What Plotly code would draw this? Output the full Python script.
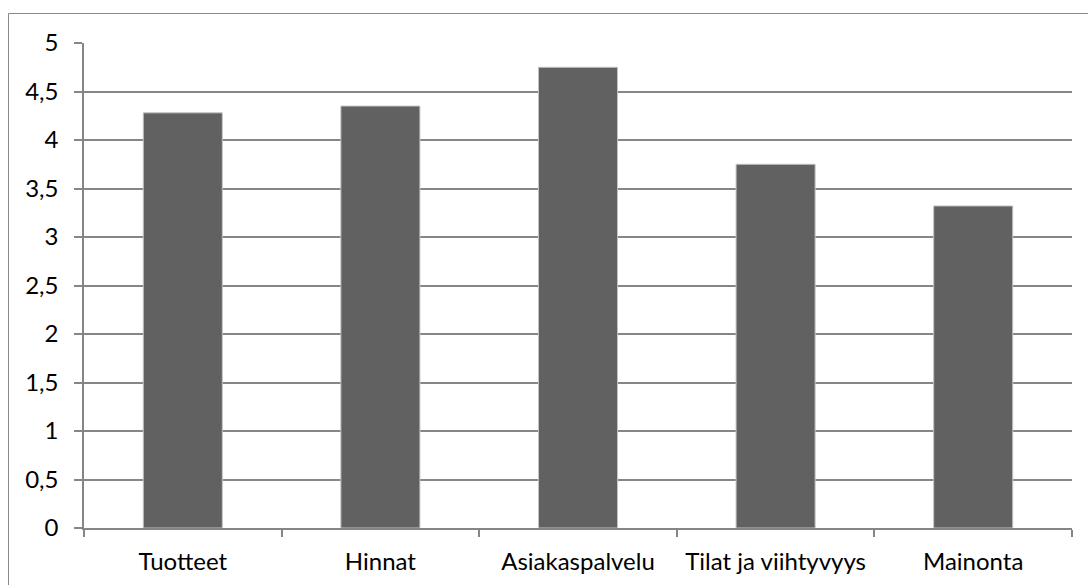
import plotly.graph_objects as go

categories = ["Tuotteet", "Hinnat", "Asiakaspalvelu", "Tilat ja viihtyvyys", "Mainonta"]
values = [4.28, 4.35, 4.75, 3.75, 3.32]
y_tick_values = [0, 0.5, 1, 1.5, 2, 2.5, 3, 3.5, 4, 4.5, 5]
y_tick_labels = ["0", "0,5", "1", "1,5", "2", "2,5", "3", "3,5", "4", "4,5", "5"]

W, H = 1088, 585
ML, MR, MT, MB = 84, 16, 43, 57
plot_w = W - ML - MR
plot_h = H - MT - MB

grid_color = "#868686"
font = dict(family="Lato, Carlito, Calibri, sans-serif", size=24, color="#000000")

fig = go.Figure(
    go.Bar(
        x=categories,
        y=values,
        marker=dict(color="#616161", line=dict(color="#c4c4c4", width=1)),
        hoverinfo="x+y",
    )
)

# outer chart frame (extends past the right and bottom edges of the page)
def px_to_paper_x(px):
    return (px - ML) / plot_w

def px_to_paper_y(py):
    return (H - MB - py) / plot_h

fig.add_shape(
    type="rect",
    xref="paper", yref="paper",
    x0=px_to_paper_x(8.5), x1=px_to_paper_x(W + 10),
    y0=px_to_paper_y(H + 10), y1=px_to_paper_y(13.5),
    line=dict(color="#8a8a8a", width=1),
    fillcolor="rgba(0,0,0,0)",
    layer="below",
)

fig.update_layout(
    width=W, height=H,
    margin=dict(l=ML, r=MR, t=MT, b=MB, pad=0),
    paper_bgcolor="#ffffff",
    plot_bgcolor="#ffffff",
    bargap=0.6,
    showlegend=False,
    font=font,
    xaxis=dict(
        type="category",
        automargin=False,
        showgrid=False,
        showline=True, linecolor=grid_color, linewidth=1.5,
        ticks="outside", tickson="boundaries", ticklen=7, tickcolor=grid_color, tickwidth=1.5,
        tickfont=font,
        ticklabelstandoff=11,
        zeroline=False,
    ),
    yaxis=dict(
        range=[0, 5],
        automargin=False,
        tickvals=y_tick_values,
        ticktext=y_tick_labels,
        showgrid=True, gridcolor=grid_color, gridwidth=1.5,
        showline=True, linecolor=grid_color, linewidth=1.5,
        ticks="outside", ticklen=8, tickcolor=grid_color, tickwidth=1.5,
        tickfont=font,
        ticklabelstandoff=11,
        zeroline=False,
    ),
)

fig.write_html("out.html")
